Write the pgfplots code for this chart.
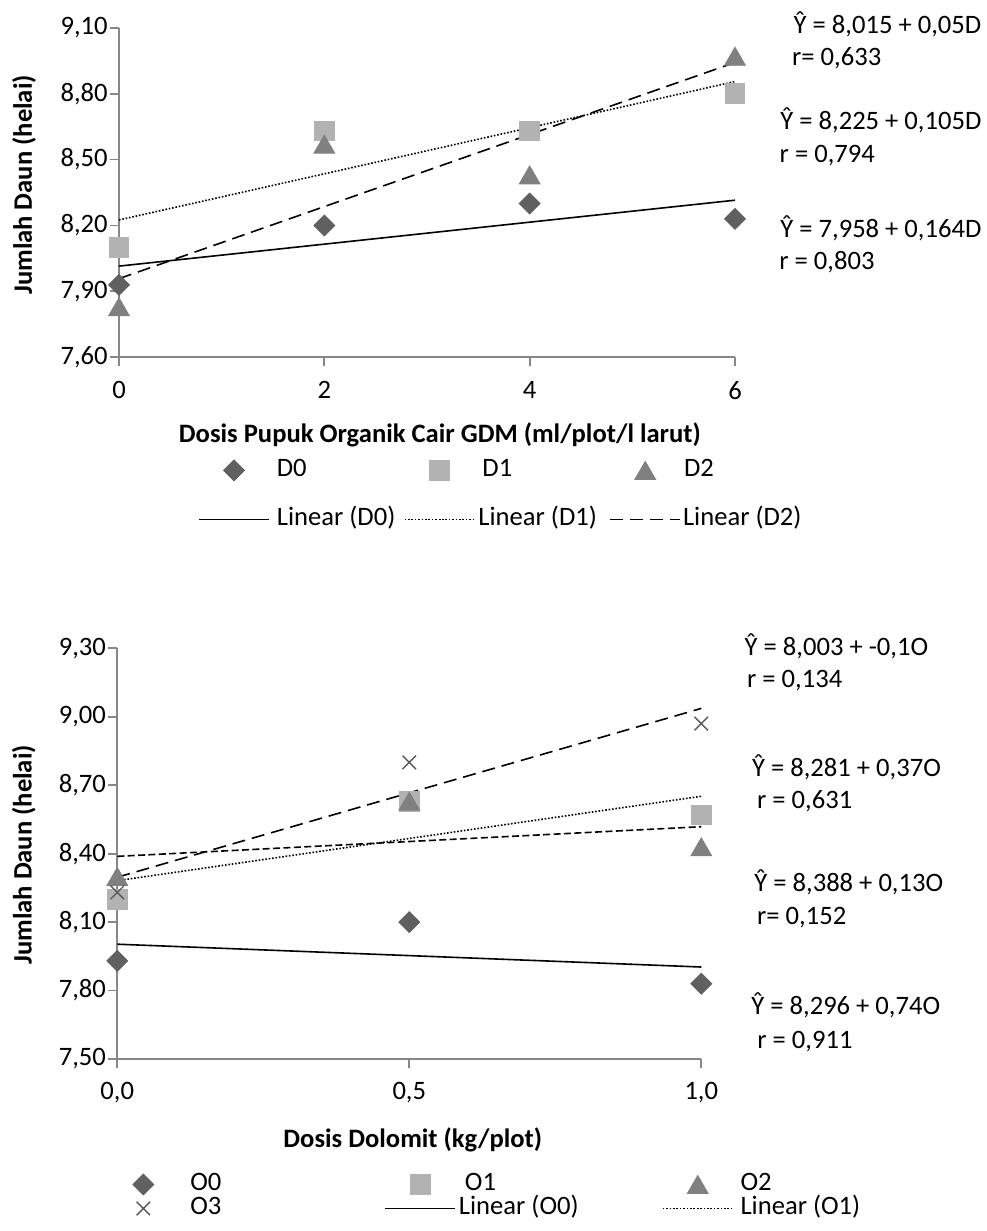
\documentclass[border=0pt]{standalone}
\usepackage{pgfplots}
\pgfplotsset{compat=1.18}
\usepackage{pgfplotstable}
\usepackage{fontspec}
\setmainfont{Carlito}

\definecolor{mkdark}{HTML}{606060}
\definecolor{mklight}{HTML}{B2B2B2}
\definecolor{mkmid}{HTML}{808080}
\definecolor{mkx}{HTML}{595959}
\definecolor{axgray}{HTML}{878787}

\newcommand{\fs}{\fontsize{13.3}{16}\selectfont}

% ---- top chart data (x = dosis POC GDM) ----
\pgfplotstableread{
x y
0 7.93
2 8.20
4 8.30
6 8.23
}\tDa
\pgfplotstableread{
x y
0 8.10
2 8.63
4 8.63
6 8.80
}\tDb
\pgfplotstableread{
x y
0 7.83
2 8.57
4 8.43
6 8.97
}\tDc
% ---- bottom chart data (x = dosis dolomit) ----
\pgfplotstableread{
x y
0 7.93
0.5 8.10
1 7.83
}\tOa
\pgfplotstableread{
x y
0 8.20
0.5 8.63
1 8.57
}\tOb
\pgfplotstableread{
x y
0 8.30
0.5 8.63
1 8.43
}\tOc
\pgfplotstableread{
x y
0 8.23
0.5 8.80
1 8.97
}\tOd

\pgfplotsset{
  chartbase/.style={
    scale only axis,
    axis x line*=bottom,
    axis y line*=left,
    axis line style={draw=axgray, line width=0.9pt},
    tick style={draw=axgray, line width=0.9pt},
    tick align=outside,
    major tick length=4.5pt,
    tick label style={font=\fs},
    /pgf/number format/assume math mode=true,
    yticklabel style={anchor=east, inner sep=0pt, xshift=-1pt,
      /pgf/number format/.cd, fixed, fixed zerofill, precision=2, use comma},
    clip=false,
    legend cell align=left,
    legend style={draw=none, fill=none, font=\fs, inner xsep=0pt, inner ysep=0pt,
      nodes={inner sep=0pt, text height=9.5pt, text depth=3pt}, column sep=0pt},
    legend image code/.code={\path[draw=none,fill=none] (0pt,0pt) -- (35pt,0pt);\draw[mark repeat=2,mark phase=2,#1] plot coordinates {(0pt,0pt) (17.5pt,0pt) (35pt,0pt)};},
  },
  mDia/.style={only marks, mark=square*, mark size=3.7pt, mark options={rotate=45}, color=mkdark},
  mSq/.style={only marks, mark=square*, mark size=4.9pt, color=mklight},
  mTri/.style={only marks, mark=triangle*, mark size=6pt, mark options={yshift=-1.5pt}, color=mkmid},
  mX/.style={only marks, mark=x, mark size=4.75pt, mark options={line width=0.7pt}, color=mkx},
  lSolid/.style={no marks, black, line width=0.8pt},
  lDot/.style={no marks, black, line width=0.8pt, dash pattern=on 0.8pt off 0.9pt},
  lLong/.style={no marks, black, line width=0.8pt, dash pattern=on 6.5pt off 3.5pt},
  lShort/.style={no marks, black, line width=0.8pt, dash pattern=on 3.5pt off 1.7pt},
}

\begin{document}
\begin{tikzpicture}
\useasboundingbox (0,0) rectangle (493pt,-615.5pt);

% ================= TOP CHART =================
\begin{axis}[chartbase,
  at={(59.5pt,-178.65pt)}, anchor=south west,
  width=308pt, height=164.8pt,
  xmin=0, xmax=6, ymin=7.6, ymax=9.1,
  xtick={0,2,4,6},
  ytick={7.6,7.9,8.2,8.5,8.8,9.1},
  xticklabel style={anchor=north, inner sep=0pt, yshift=-7.2pt},
  every axis x label/.style={at={(axis description cs:0.521,-0.236)}, anchor=center, font=\fs\bfseries},
  every axis y label/.style={at={(axis description cs:-0.154,0.523)}, rotate=90, anchor=center, font=\fs\bfseries},
  xlabel={Dosis Pupuk Organik Cair GDM (ml/plot/l larut)},
  ylabel={Jumlah Daun (helai)},
  legend columns=3,
  legend style={at={(axis description cs:0.128,-0.304)}, anchor=north west,
    /tikz/row sep=12pt},
]
\addplot[mDia] table[x=x,y=y] {\tDa};
\addlegendentry{\makebox[67pt][l]{\hspace*{3.5pt}D0}}
\addplot[mSq] table[x=x,y=y] {\tDb};
\addlegendentry{\makebox[67pt][l]{\hspace*{3.5pt}D1}}
\addplot[mTri] table[x=x,y=y] {\tDc};
\addlegendentry{\makebox[67pt][l]{\hspace*{1.5pt}D2}}
\addplot[lSolid] table[x=x,y={create col/linear regression={y=y}}] {\tDa};
\addlegendentry{\makebox[67pt][l]{\hspace*{3.5pt}Linear (D0)}}
\addplot[lDot] table[x=x,y={create col/linear regression={y=y}}] {\tDb};
\addlegendentry{\makebox[67pt][l]{\hspace*{1.5pt}Linear (D1)}}
\addplot[lLong] table[x=x,y={create col/linear regression={y=y}}] {\tDc};
\addlegendentry{\makebox[67pt][l]{\hspace*{1pt}Linear (D2)}}
\end{axis}

% ================= BOTTOM CHART =================
\begin{axis}[chartbase,
  at={(58.65pt,-529.5pt)}, anchor=south west,
  width=292pt, height=205.35pt,
  xmin=0, xmax=1, ymin=7.5, ymax=9.3,
  xtick={0,0.5,1},
  ytick={7.5,7.8,8.1,8.4,8.7,9.0,9.3},
  xticklabel style={anchor=north, inner sep=0pt, yshift=-6.8pt,
    /pgf/number format/.cd, fixed, fixed zerofill, precision=1, use comma},
  every axis x label/.style={at={(axis description cs:0.506,-0.197)}, anchor=center, font=\fs\bfseries},
  every axis y label/.style={at={(axis description cs:-0.160,0.497)}, rotate=90, anchor=center, font=\fs\bfseries},
  xlabel={Dosis Dolomit (kg/plot)},
  ylabel={Jumlah Daun (helai)},
  legend columns=3,
  legend style={at={(axis description cs:-0.016,-0.274)}, anchor=north west,
    /tikz/row sep=-0.5pt},
]
\addplot[mDia] table[x=x,y=y] {\tOa};
\addlegendentry{\makebox[103pt][l]{\hspace*{6pt}O0}}
\addplot[mSq] table[x=x,y=y] {\tOb};
\addlegendentry{\makebox[103pt][l]{\hspace*{4.5pt}O1}}
\addplot[mTri] table[x=x,y=y] {\tOc};
\addlegendentry{\makebox[103pt][l]{\hspace*{3.5pt}O2}}
\addplot[mX] table[x=x,y=y] {\tOd};
\addlegendentry{\makebox[103pt][l]{\hspace*{6pt}O3}}
\addplot[lSolid] table[x=x,y={create col/linear regression={y=y}}] {\tOa};
\addlegendentry{\makebox[103pt][l]{\hspace*{1.5pt}Linear (O0)}}
\addplot[lDot] table[x=x,y={create col/linear regression={y=y}}] {\tOb};
\addlegendentry{\makebox[103pt][l]{\hspace*{3.5pt}Linear (O1)}}
\addplot[lShort, forget plot] table[x=x,y={create col/linear regression={y=y}}] {\tOc};
\addplot[lLong, forget plot] table[x=x,y={create col/linear regression={y=y}}] {\tOd};
\end{axis}

% ================= regression annotations =================
\begin{scope}[every node/.style={anchor=base west, font=\fs, inner sep=0pt}]
\node at (396.65pt,-16.65pt) {Ŷ = 8,015 + 0,05D};
\node at (395.85pt,-32.5pt) {r= 0,633};
\node at (390pt,-64.65pt) {Ŷ = 8,225 + 0,105D};
\node at (389.65pt,-81pt) {r = 0,794};
\node at (390pt,-118.65pt) {Ŷ = 7,958 + 0,164D};
\node at (389.5pt,-134.65pt) {r = 0,803};
\node at (372.15pt,-327.5pt) {Ŷ = 8,003 + -0,1O};
\node at (373.35pt,-343.65pt) {r = 0,134};
\node at (375.85pt,-388pt) {Ŷ = 8,281 + 0,37O};
\node at (378.35pt,-404.15pt) {r = 0,631};
\node at (377pt,-445.85pt) {Ŷ = 8,388 + 0,13O};
\node at (378.35pt,-462pt) {r= 0,152};
\node at (375.5pt,-507.1pt) {Ŷ = 8,296 + 0,74O};
\node at (378.5pt,-524.2pt) {r = 0,911};
\end{scope}
\end{tikzpicture}
\end{document}
